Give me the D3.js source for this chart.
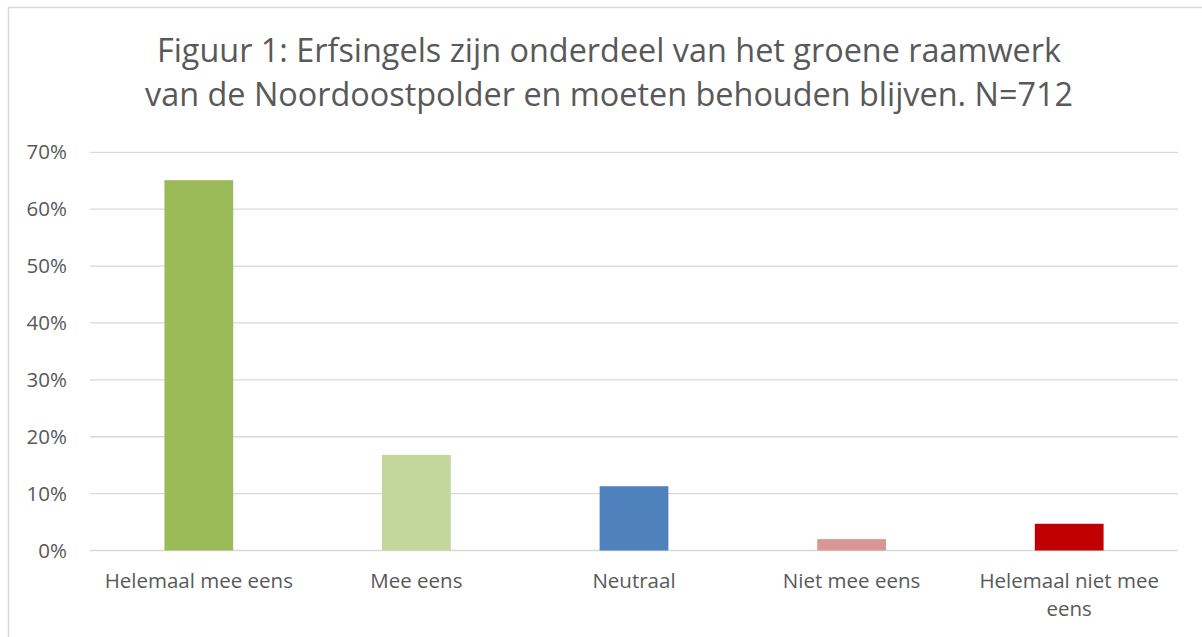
<!DOCTYPE html>
<html>
<head>
<meta charset="utf-8">
<script src="https://cdn.jsdelivr.net/npm/d3@7"></script>
<style>
  html, body { margin: 0; padding: 0; background: #fff; }
  svg { display: block; }
  text { font-family: "Open Sans", "Noto Sans", sans-serif; fill: #595959; }
</style>
</head>
<body>
<svg id="chart" width="1202" height="637"></svg>
<script>
const categories = ["Helemaal mee eens", "Mee eens", "Neutraal", "Niet mee eens", "Helemaal niet mee eens"];
const values = [0.651, 0.168, 0.113, 0.020, 0.047];
const colors = ["#9BBB59", "#C3D69B", "#4F81BD", "#D99694", "#C00000"];
const yTicks = [0, 0.1, 0.2, 0.3, 0.4, 0.5, 0.6, 0.7];
const titleLines = ["Figuur 1: Erfsingels zijn onderdeel van het groene raamwerk",
                    "van de Noordoostpolder en moeten behouden blijven. N=712"];

const svg = d3.select("#chart");
const W = 1202, H = 637;
const plot = { left: 90, right: 1178, top: 152.3, bottom: 550.5 };

// chart border
svg.append("path")
  .attr("d", `M8.5,${H} L8.5,7.5 L${W},7.5`)
  .attr("fill", "none").attr("stroke", "#d9d9d9").attr("stroke-width", 1.5);

const x = d3.scaleBand().domain(categories).range([plot.left, plot.right]).padding(0);
const y = d3.scaleLinear().domain([0, 0.7]).range([plot.bottom, plot.top]);

// gridlines
svg.append("g").selectAll("line").data(yTicks).join("line")
  .attr("x1", plot.left).attr("x2", plot.right)
  .attr("y1", d => y(d)).attr("y2", d => y(d))
  .attr("stroke", "#d9d9d9").attr("stroke-width", 1.3);

// y axis labels
const yAxis = d3.axisLeft(y).tickValues(yTicks).tickFormat(d3.format(".0%")).tickSize(0).tickPadding(0);
const ya = svg.append("g").attr("transform", `translate(67,0)`).call(yAxis);
ya.select(".domain").remove();
ya.selectAll("text").style("font-size", "20.5px").attr("fill", "#595959")
  .style("font-family", '"Open Sans", sans-serif');

// bars
const barW = x.bandwidth() * 0.316;
svg.append("g").selectAll("rect").data(categories).join("rect")
  .attr("x", d => x(d) + x.bandwidth() / 2 - barW / 2)
  .attr("width", barW)
  .attr("y", (d, i) => y(values[i]))
  .attr("height", (d, i) => y(0) - y(values[i]))
  .attr("fill", (d, i) => colors[i]);

// category labels with wrapping
const maxW = x.bandwidth() * 0.93;
const lab = svg.append("g");
categories.forEach(c => {
  const t = lab.append("text")
    .attr("x", x(c) + x.bandwidth() / 2)
    .attr("y", 588)
    .attr("text-anchor", "middle")
    .style("font-size", "20.5px");
  const words = c.split(" ");
  let line = [];
  let tspan = t.append("tspan").attr("x", x(c) + x.bandwidth() / 2).attr("dy", 0);
  words.forEach(w => {
    line.push(w);
    tspan.text(line.join(" "));
    if (tspan.node().getComputedTextLength() > maxW && line.length > 1) {
      line.pop();
      tspan.text(line.join(" "));
      line = [w];
      tspan = t.append("tspan").attr("x", x(c) + x.bandwidth() / 2).attr("dy", 28).text(w);
    }
  });
});

// title
svg.append("g").selectAll("text").data(titleLines).join("text")
  .attr("x", 609)
  .attr("y", (d, i) => 62 + i * 43.5)
  .attr("text-anchor", "middle")
  .style("font-size", "32.4px")
  .text(d => d);
</script>
</body>
</html>
